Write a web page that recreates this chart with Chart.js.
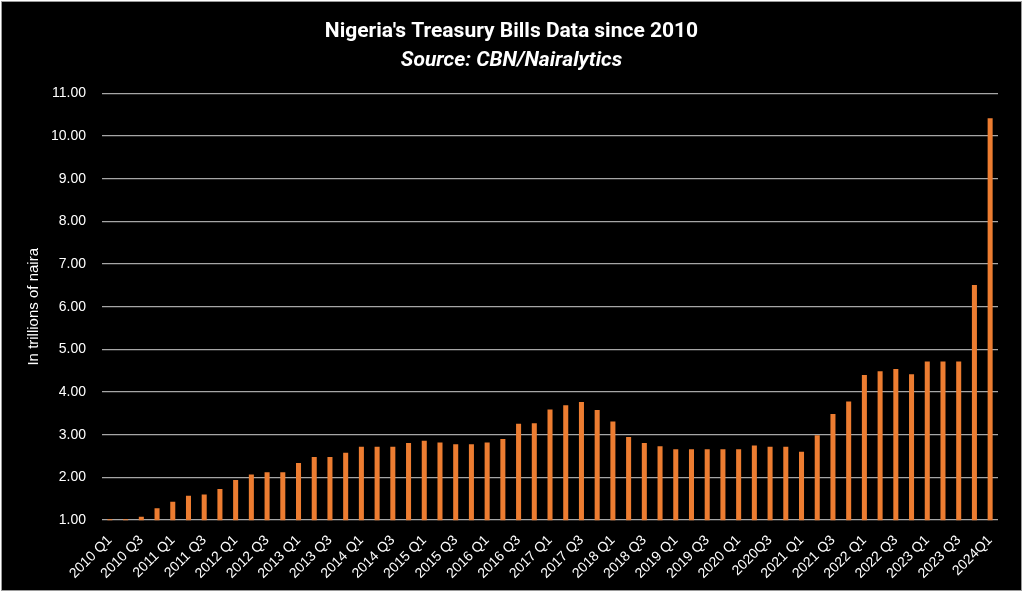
<!DOCTYPE html>
<html>
<head>
<meta charset="utf-8">
<script src="https://cdn.jsdelivr.net/npm/chart.js@4.4.1/dist/chart.umd.min.js"></script>
<style>
  html, body { margin: 0; padding: 0; background: #ffffff; }
  #wrap { position: absolute; left: 0; top: 0; width: 1024px; height: 595px; }
</style>
</head>
<body>
<div id="wrap"><canvas id="c" width="1024" height="595"></canvas></div>
<script>
// ---- Data ----
const categories = [
  "2010 Q1","2010 Q2","2010 Q3","2010 Q4",
  "2011 Q1","2011 Q2","2011 Q3","2011 Q4",
  "2012 Q1","2012 Q2","2012 Q3","2012 Q4",
  "2013 Q1","2013 Q2","2013 Q3","2013 Q4",
  "2014 Q1","2014 Q2","2014 Q3","2014 Q4",
  "2015 Q1","2015 Q2","2015 Q3","2015 Q4",
  "2016 Q1","2016 Q2","2016 Q3","2016 Q4",
  "2017 Q1","2017 Q2","2017 Q3","2017 Q4",
  "2018 Q1","2018 Q2","2018 Q3","2018 Q4",
  "2019 Q1","2019 Q2","2019 Q3","2019 Q4",
  "2020 Q1","2020 Q2","2020Q3","2020 Q4",
  "2021 Q1","2021 Q2","2021 Q3","2021 Q4",
  "2022 Q1","2022 Q2","2022 Q3","2022 Q4",
  "2023 Q1","2023 Q2","2023 Q3","2023 Q4",
  "2024Q1"
];
const treasuryBills = [
  1.02, 1.02, 1.08, 1.28,
  1.43, 1.57, 1.60, 1.73,
  1.94, 2.07, 2.12, 2.12,
  2.34, 2.48, 2.48, 2.58,
  2.72, 2.72, 2.72, 2.81,
  2.86, 2.82, 2.78, 2.78,
  2.82, 2.90, 3.26, 3.27,
  3.59, 3.69, 3.77, 3.58,
  3.31, 2.95, 2.81, 2.73,
  2.66, 2.66, 2.66, 2.66,
  2.66, 2.75, 2.72, 2.72,
  2.60, 2.99, 3.49, 3.78,
  4.40, 4.49, 4.54, 4.42,
  4.72, 4.72, 4.72, 6.51,
  10.42
];
const yMin = 1;
const yMax = 11;
const yStep = 1;
const titleText = "Nigeria's Treasury Bills Data since 2010";
const subtitleText = "Source: CBN/Nairalytics";
const yAxisTitle = "In trillions of naira";

// ---- Background + frame plugin ----
const bgPlugin = {
  id: 'bgFrame',
  beforeDraw(chart) {
    const ctx = chart.ctx;
    ctx.save();
    ctx.fillStyle = '#ffffff';
    ctx.fillRect(0, 0, chart.width, chart.height);
    ctx.fillStyle = '#000000';
    ctx.fillRect(1, 1, 1021, 590);
    ctx.strokeStyle = '#9a9a9a';
    ctx.lineWidth = 1;
    ctx.strokeRect(1.5, 1.5, 1020, 589);
    ctx.restore();
  }
};

const titleFont = "Roboto, 'Liberation Sans', sans-serif";
const sans = "'Liberation Sans', Arial, sans-serif";
const yTickPadding = 16;

new Chart(document.getElementById('c'), {
  type: 'bar',
  data: {
    labels: categories,
    datasets: [{
      label: 'Treasury Bills',
      data: treasuryBills,
      backgroundColor: '#ED7D31',
      borderWidth: 0,
      barPercentage: 0.32,
      categoryPercentage: 1.0
    }]
  },
  options: {
    responsive: false,
    animation: false,
    devicePixelRatio: 1,
    layout: { padding: { left: 25, right: 26, top: 0, bottom: 1 } },
    plugins: {
      legend: { display: false },
      tooltip: { enabled: false },
      title: {
        display: true,
        text: titleText,
        color: '#ffffff',
        font: { family: titleFont, size: 21, weight: 'bold' },
        padding: { top: 19, bottom: 4 }
      },
      subtitle: {
        display: true,
        text: subtitleText,
        color: '#ffffff',
        font: { family: titleFont, size: 21, weight: 'bold', style: 'italic' },
        padding: { top: 0, bottom: 20 }
      }
    },
    scales: {
      x: {
        grid: { display: false, drawTicks: false },
        border: { display: false },
        afterFit: (scale) => { scale.paddingLeft = 0; },
        ticks: {
          color: '#ffffff',
          font: { family: sans, size: 14 },
          autoSkip: false,
          minRotation: 45,
          maxRotation: 45,
          padding: 12,
          callback: function(value, index) {
            return index % 2 === 0 ? categories[index] : '';
          }
        }
      },
      y: {
        min: yMin,
        max: yMax,
        grid: { color: '#a6a6a6', lineWidth: 1.3, drawTicks: false },
        border: { display: false },
        afterFit: (scale) => { scale.width -= yTickPadding; },
        ticks: {
          stepSize: yStep,
          color: '#ffffff',
          font: { family: sans, size: 14 },
          padding: yTickPadding,
          callback: v => Number(v).toFixed(2)
        },
        title: {
          display: true,
          text: yAxisTitle,
          color: '#ffffff',
          font: { family: sans, size: 15 },
          padding: { top: 0, bottom: 8 }
        }
      }
    }
  },
  plugins: [bgPlugin]
});
</script>
</body>
</html>
